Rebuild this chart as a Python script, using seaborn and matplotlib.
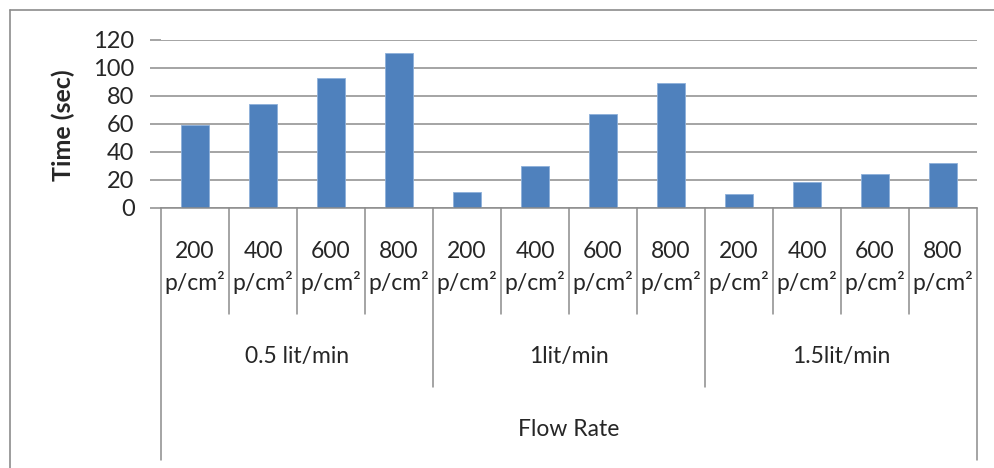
import matplotlib
matplotlib.use("Agg")
import matplotlib.pyplot as plt
import matplotlib.transforms as mtransforms
import seaborn as sns
import pandas as pd

flow_rates = ["0.5 lit/min", "1lit/min", "1.5lit/min"]
pressures = ["200\np/cm²", "400\np/cm²", "600\np/cm²", "800\np/cm²"]
times_05 = [59, 74.5, 92.5, 110.5]
times_1 = [11.5, 30, 67, 89.5]
times_15 = [10, 18.5, 24.5, 32.5]
y_ticks = [0, 20, 40, 60, 80, 100, 120]
y_label = "Time (sec)"
x_title = "Flow Rate"

rows = []
for fr, vals in zip(flow_rates, [times_05, times_1, times_15]):
    for p, v in zip(pressures, vals):
        rows.append({"key": fr + "|" + p, "flow": fr, "pressure": p, "time": v})
df = pd.DataFrame(rows)
order = list(df["key"])

sns.set_style("white")
plt.rcParams["font.family"] = ["Lato", "DejaVu Sans"]
FS = 16.5

W, H = 994, 468
fig = plt.figure(figsize=(W / 100, H / 100), dpi=100)
left, right, top, bottom = 161, 977, 40, 208
ax = fig.add_axes([left / W, 1 - bottom / H, (right - left) / W, (bottom - top) / H])

sns.barplot(data=df, x="key", y="time", order=order, color="#4F81BD",
            width=0.4, edgecolor="#8EB0DA", linewidth=0.6, ax=ax, saturation=1)

lc = "#8C8C8C"
ax.set_ylim(0, 120)
ax.set_xlim(-0.5, len(order) - 0.5)
ax.set_yticks(y_ticks)
ax.set_yticklabels([str(t) for t in y_ticks], fontsize=17)
ax.tick_params(axis="y", length=8, width=1.1, color=lc, direction="out", pad=11, left=True)
ax.set_xticks([])
ax.set_xlabel("")
ax.set_ylabel("")
ax.yaxis.grid(True, color=lc, linewidth=1.1)
ax.set_axisbelow(True)
for s in ["top", "right", "left"]:
    ax.spines[s].set_visible(False)
ax.spines["bottom"].set_color(lc)
ax.spines["bottom"].set_linewidth(1.1)

fig.text(63 / W, 1 - 125 / H, y_label, rotation=90, fontsize=18, fontweight="bold",
         ha="center", va="center")

trans = mtransforms.blended_transform_factory(ax.transData, fig.transFigure)
def fy(py):
    return 1 - py / H

n = len(order)
for i in range(n + 1):
    x = i - 0.5
    if i == 0 or i == n:
        y_end = 460
    elif i % 4 == 0:
        y_end = 387
    else:
        y_end = 314
    ax.plot([x, x], [fy(bottom), fy(y_end)], color=lc, linewidth=1.1,
            transform=trans, clip_on=False)

for i, key in enumerate(order):
    p = df.loc[i, "pressure"]
    top_line, bot_line = p.split("\n")
    ax.text(i, fy(252), top_line, transform=trans, ha="center", va="center", fontsize=FS)
    ax.text(i, fy(282), bot_line, transform=trans, ha="center", va="center", fontsize=FS)

for g, fr in enumerate(flow_rates):
    ax.text(g * 4 + 1.5, fy(357), fr, transform=trans, ha="center", va="center", fontsize=FS)

ax.text((n - 1) / 2, fy(430), x_title, transform=trans, ha="center", va="center", fontsize=FS)

# outer chart frame
fig.add_artist(plt.Line2D([10 / W, 10 / W], [0, 1 - 10 / H], color=lc,
                          linewidth=1.2, transform=fig.transFigure))
fig.add_artist(plt.Line2D([10 / W, 1], [1 - 10 / H, 1 - 10 / H], color=lc,
                          linewidth=1.2, transform=fig.transFigure))

fig.savefig("out.png", dpi=100)
